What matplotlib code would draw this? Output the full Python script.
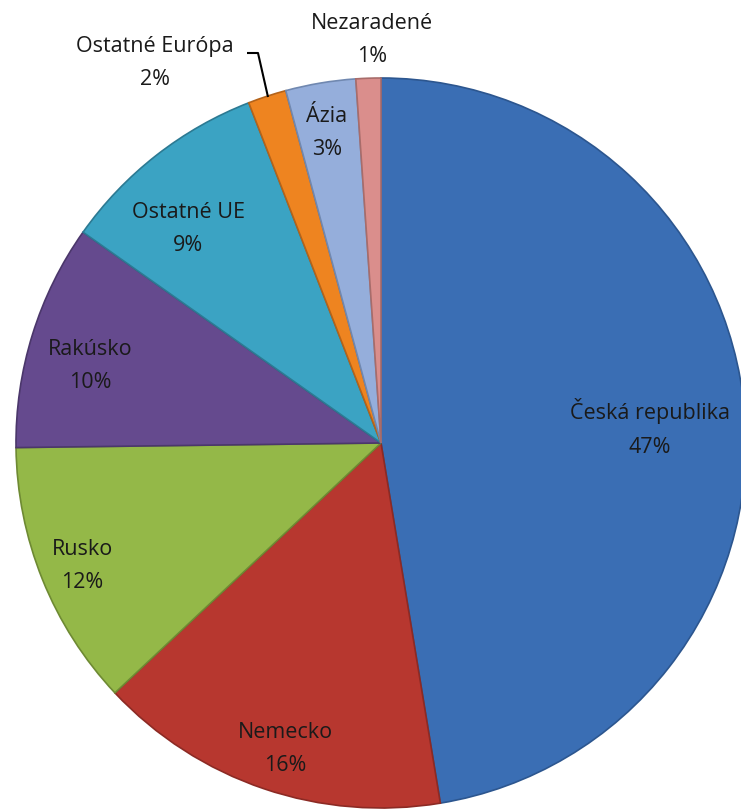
import matplotlib
matplotlib.use("Agg")
import matplotlib.pyplot as plt

categories = ["Česká republika", "Nemecko", "Rusko", "Rakúsko", "Ostatné UE",
              "Ostatné Európa", "Ázia", "Nezaradené"]
values = [47.4, 15.6, 11.8, 10.0, 9.3, 1.7, 3.1, 1.1]
pct_labels = ["47%", "16%", "12%", "10%", "9%", "2%", "3%", "1%"]
colors = ["#3A6EB4", "#B7372F", "#94B848", "#654A8E", "#3BA3C3",
          "#EE8420", "#95AEDB", "#DA8E8C"]
edge_colors = ["#2C568F", "#8C2A24", "#6E8A33", "#4B376B", "#2C7A93",
               "#B4631A", "#7088B0", "#A86C6A"]

W, H = 741, 809
fig = plt.figure(figsize=(W / 100, H / 100), dpi=100)
ax = fig.add_axes([0, 0, 1, 1])

cx, cy, r = 381, H - 443, 365
wedges, _ = ax.pie(values, colors=colors, startangle=90, counterclock=False,
                   center=(cx, cy), radius=r, frame=True,
                   wedgeprops=dict(linewidth=1.2))
for w, ec in zip(wedges, edge_colors):
    w.set_edgecolor(ec)
ax.set_xlim(0, W)
ax.set_ylim(0, H)
ax.set_aspect("equal")
ax.axis("off")

label_pos = [(650, 428), (285, 749), (82, 566), (90, 366), (188, 229),
             (155, 63), (327, 133), (372, 40)]
font = ["Open Sans", "DejaVu Sans"]
for name, pct, (x, y) in zip(categories, pct_labels, label_pos):
    ax.text(x, H - y, f"{name}\n{pct}", ha="center", va="center",
            fontsize=15.5, family=font, color="#1a1a1a", linespacing=1.8)

# leader line for Ostatné Európa
ax.plot([247, 258, 268], [H - 53, H - 53, H - 97], color="black", lw=1.5,
        solid_capstyle="butt")

fig.savefig("out.png", dpi=100)
